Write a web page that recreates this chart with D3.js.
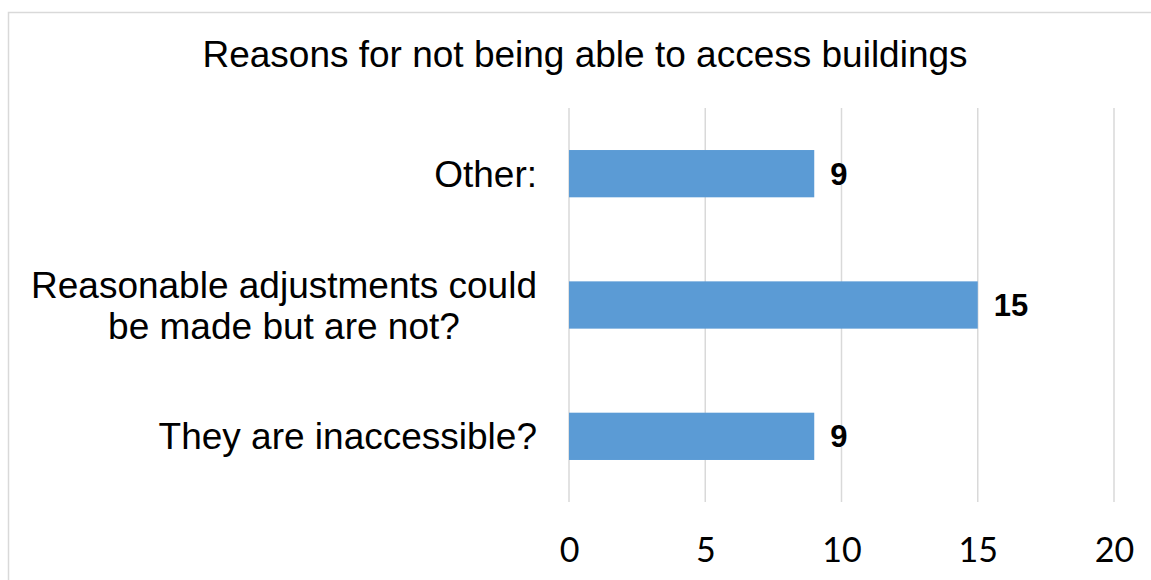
<!DOCTYPE html>
<html>
<head>
<meta charset="utf-8">
<script src="https://cdn.jsdelivr.net/npm/d3@7"></script>
<style>
  html, body { margin: 0; padding: 0; background: #fff; }
  svg { display: block; }
</style>
</head>
<body>
<svg id="chart" width="1151" height="580"></svg>
<script>
// Chart data
const title = "Reasons for not being able to access buildings";
const categories = [
  ["Other:"],
  ["Reasonable adjustments could", "be made but are not?"],
  ["They are inaccessible?"]
];
const values = [9, 15, 9];
const tickValues = [0, 5, 10, 15, 20];

const svg = d3.select("#chart");

// Outer chart frame (runs off the right and bottom edges)
svg.append("rect")
  .attr("x", 8.5).attr("y", 12.5)
  .attr("width", 1160).attr("height", 600)
  .attr("fill", "#fff")
  .attr("stroke", "#d9d9d9").attr("stroke-width", 1.5);

const plot = { left: 569, right: 1114, top: 108, bottom: 502 };

const x = d3.scaleLinear().domain([0, 20]).range([plot.left, plot.right]);
const y = d3.scaleBand()
  .domain(d3.range(categories.length))
  .range([plot.top, plot.bottom])
  .paddingInner(0.64).paddingOuter(0.32);

// Title
svg.append("text")
  .attr("x", 585).attr("y", 67)
  .attr("text-anchor", "middle")
  .attr("font-family", "Liberation Sans, Arial, sans-serif")
  .attr("font-size", 37)
  .attr("fill", "#000")
  .text(title);

// Vertical gridlines
svg.append("g")
  .selectAll("line")
  .data(tickValues)
  .join("line")
  .attr("x1", d => x(d)).attr("x2", d => x(d))
  .attr("y1", plot.top).attr("y2", plot.bottom)
  .attr("stroke", "#d9d9d9").attr("stroke-width", 1.5);

// Bottom axis tick labels
const xAxis = d3.axisBottom(x).tickValues(tickValues).tickSize(0).tickPadding(0);
const gx = svg.append("g")
  .attr("transform", `translate(0,${plot.bottom})`)
  .call(xAxis);
gx.select(".domain").remove();
gx.selectAll("text")
  .attr("dy", null)
  .attr("y", 60)
  .attr("font-family", "Lato, Carlito, Calibri, sans-serif")
  .attr("font-size", 34)
  .attr("fill", "#000");

// Bars
svg.append("g")
  .selectAll("rect")
  .data(values)
  .join("rect")
  .attr("x", x(0))
  .attr("y", (d, i) => y(i))
  .attr("width", d => x(d) - x(0))
  .attr("height", y.bandwidth())
  .attr("fill", "#5b9bd5");

// Value labels
svg.append("g")
  .selectAll("text")
  .data(values)
  .join("text")
  .attr("x", d => x(d) + 16)
  .attr("y", (d, i) => y(i) + y.bandwidth() / 2 + 11)
  .attr("font-family", "Liberation Sans, Arial, sans-serif")
  .attr("font-weight", "bold")
  .attr("font-size", 31)
  .attr("fill", "#000")
  .text(d => d);

// Category labels: multi-line labels centered as a block, right-aligned to the axis
const labelRight = 537;
const lineH = 41;
const catG = svg.append("g")
  .attr("font-family", "Liberation Sans, Arial, sans-serif")
  .attr("font-size", 37)
  .attr("fill", "#000");

categories.forEach((lines, i) => {
  const cy = y(i) + y.bandwidth() / 2;
  const g = catG.append("g");
  const texts = g.selectAll("text")
    .data(lines)
    .join("text")
    .attr("y", (d, j) => cy + 13 + (j - (lines.length - 1) / 2) * lineH)
    .attr("text-anchor", "middle")
    .text(d => d);
  let maxW = 0;
  texts.each(function () { maxW = Math.max(maxW, this.getComputedTextLength()); });
  texts.attr("x", labelRight - maxW / 2);
});
</script>
</body>
</html>
